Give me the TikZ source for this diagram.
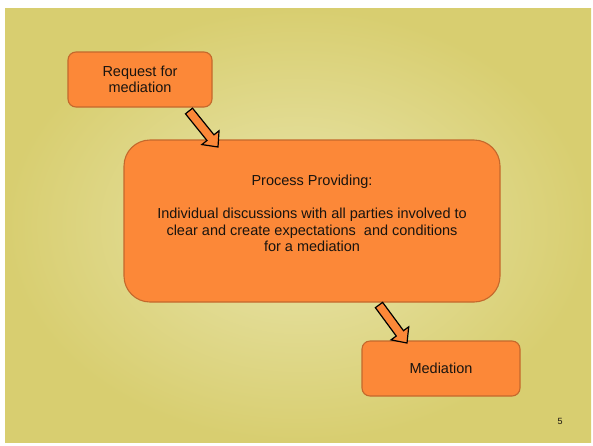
\documentclass[tikz,border=0pt]{standalone}
\usepackage{fontspec}
\setmainfont{Liberation Sans}
\usetikzlibrary{calc}
\definecolor{boxfill}{RGB}{252,136,56}
\definecolor{boxedge}{RGB}{196,104,44}
\definecolor{bgin}{RGB}{233,229,172}
\definecolor{bgout}{RGB}{216,206,112}
\definecolor{inktext}{RGB}{25,20,15}
\newcommand{\barrowdraw}[2]{%
  \coordinate (#1h) at ($(#2)!12pt!(#1)$);
  \draw[barrow] ($(#1)!4.5pt!90:(#2)$) -- ($(#1h)!4.5pt!90:(#2)$) -- ($(#1h)!11pt!90:(#2)$) -- (#2)
     -- ($(#1h)!11pt!-90:(#2)$) -- ($(#1h)!4.5pt!-90:(#2)$) -- ($(#1)!4.5pt!-90:(#2)$) -- cycle;}
\begin{document}
\begin{tikzpicture}[x=1pt,y=-1pt,
  box/.style={draw=boxedge, fill=boxfill, line width=1.1pt, rounded corners=8pt,
    align=center, inner sep=0pt, text=inktext,
    font=\fontsize{14.5}{16.5}\selectfont},
  txt/.style={align=center, inner sep=0pt, text=inktext,
    font=\fontsize{14.5}{16.5}\selectfont},
  barrow/.style={draw=black, fill=boxfill, line width=1.2pt, line join=miter}]
\useasboundingbox (0,0) rectangle (593,445);
\fill[white] (0,0) rectangle (593,445);
\shade[inner color=bgin, outer color=bgout] (5,8) rectangle (591,442);
\node[box, minimum width=144pt, minimum height=55pt] (req) at (140,79.5) {Request for\\mediation};
\node[box, minimum width=376pt, minimum height=162pt, rounded corners=26pt] (proc) at (312,221) {};
\node[txt] (proctext) at (312,213.5) {Process Providing:\\[16.5pt]Individual discussions with all parties involved to\\clear and create expectations\ \ and conditions\\for a mediation};
\node[box, minimum width=158pt, minimum height=55pt] (med) at (441,368.5) {Mediation};
\coordinate (a1s) at (189,111);
\coordinate (a1e) at (218,147);
\coordinate (a2s) at (379,305);
\coordinate (a2e) at (407,343);
\barrowdraw{a1s}{a1e}
\barrowdraw{a2s}{a2e}
\node[inner sep=0pt, text=inktext, font=\fontsize{9}{10}\selectfont] (pg) at (560,421) {5};
\end{tikzpicture}
\end{document}
